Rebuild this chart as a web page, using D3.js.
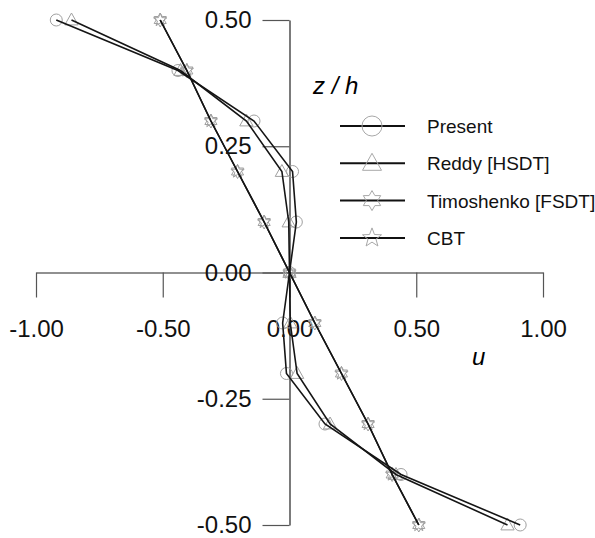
<!DOCTYPE html>
<html>
<head>
<meta charset="utf-8">
<script src="https://d3js.org/d3.v7.min.js"></script>
<style>
  body { margin: 0; background: #fff; }
  text { font-family: "Liberation Sans", Arial, sans-serif; }
</style>
</head>
<body>
<script>
// data
const zh = [0.5, 0.4, 0.3, 0.2, 0.1, 0, -0.1, -0.2, -0.3, -0.4, -0.5];
const present = [-0.92, -0.44, -0.14, 0.012, 0.027, 0, -0.027, -0.012, 0.14, 0.44, 0.91];
const reddy = [-0.86, -0.43, -0.17, -0.03, -0.003, 0, 0.003, 0.03, 0.16, 0.42, 0.86];
const fsdt = [-0.51, -0.405, -0.31, -0.205, -0.1, 0, 0.1, 0.205, 0.31, 0.405, 0.51];
const cbt = [-0.51, -0.405, -0.31, -0.205, -0.1, 0, 0.1, 0.205, 0.31, 0.405, 0.51];
const seriesNames = ["Present", "Reddy [HSDT]", "Timoshenko [FSDT]", "CBT"];
const xTicks = [-1, -0.5, 0, 0.5, 1];
const yTicks = [-0.5, -0.25, 0, 0.25, 0.5];

const W = 595, H = 538;
const x = d3.scaleLinear().domain([-1, 1]).range([36, 543]);
const y = d3.scaleLinear().domain([-0.5, 0.5]).range([525, 20]);

const svg = d3.select("body").append("svg")
  .attr("width", W).attr("height", H);

// marker shapes (R = outer radius)
let starPath = (n, R, r) => {
  let pts = [];
  for (let i = 0; i < 2 * n; i++) {
    let a = -Math.PI / 2 + i * Math.PI / n;
    let rr = i % 2 === 0 ? R : r;
    pts.push([rr * Math.cos(a), rr * Math.sin(a)]);
  }
  return "M" + pts.map(p => p.join(",")).join("L") + "Z";
};
let shapes = [
  R => `M${-R},0A${R},${R} 0 1,0 ${R},0A${R},${R} 0 1,0 ${-R},0Z`,
  R => `M0,${-R}L${R * 0.95},${R * 0.7}L${-R * 0.95},${R * 0.7}Z`,
  R => starPath(6, R, R / Math.sqrt(3)),
  R => starPath(5, R, R * 0.42)
];

// plain hyphen minus like the original
let fmt = d => d.toFixed(2);

// axes
let xAxis = d3.axisBottom(x).tickValues(xTicks).tickSize(25).tickSizeOuter(0)
  .tickPadding(22).tickFormat(fmt);
let yAxis = d3.axisLeft(y).tickValues(yTicks).tickSize(27).tickSizeOuter(0)
  .tickPadding(11).tickFormat(fmt);

let gx = svg.append("g").attr("transform", `translate(0,${y(0)})`).call(xAxis);
let gy = svg.append("g").attr("transform", `translate(${x(0)},0)`).call(yAxis);
[gx, gy].forEach(g => {
  g.select(".domain").attr("stroke", "#222").attr("stroke-width", 1.2);
  g.selectAll(".tick line").attr("stroke", "#555").attr("stroke-width", 1.2);
  g.selectAll(".tick text").attr("fill", "#111")
    .style("font-size", "24px").style("font-family", "'Liberation Sans', Arial, sans-serif");
});

// axis titles
svg.append("text").attr("x", 313).attr("y", 94)
  .style("font-size", "24px").style("font-style", "italic").text("z / h");
svg.append("text").attr("x", 472).attr("y", 365)
  .style("font-size", "24px").style("font-style", "italic").text("u");

// series
let all = [present, reddy, fsdt, cbt];
let line = d3.line().x(d => x(d[0])).y(d => y(d[1]));

all.forEach((vals, k) => {
  let pts = vals.map((u, i) => [u, zh[i]]);
  svg.append("g").selectAll("path").data(pts).enter().append("path")
    .attr("d", shapes[k](k === 0 ? 6 : 7))
    .attr("transform", d => `translate(${x(d[0])},${y(d[1])})`)
    .attr("fill", "none").attr("stroke", "#a0a0a0").attr("stroke-width", 1);
});
all.forEach(vals => {
  let pts = vals.map((u, i) => [u, zh[i]]);
  svg.append("path").datum(pts).attr("d", line)
    .attr("fill", "none").attr("stroke", "#151515").attr("stroke-width", 1.6);
});

// legend
let leg = svg.append("g").selectAll("g").data(seriesNames).enter().append("g")
  .attr("transform", (d, i) => `translate(340,${126 + i * 37.3})`);
leg.append("line").attr("x1", 0).attr("x2", 65)
  .attr("stroke", "#111").attr("stroke-width", 2);
leg.append("path").attr("d", (d, i) => shapes[i](10))
  .attr("transform", "translate(32,0)")
  .attr("fill", "none").attr("stroke", "#a8a8a8").attr("stroke-width", 1);
leg.append("text").attr("x", 87).attr("y", 7)
  .style("font-size", "19px").attr("fill", "#111").text(d => d);
</script>
</body>
</html>
